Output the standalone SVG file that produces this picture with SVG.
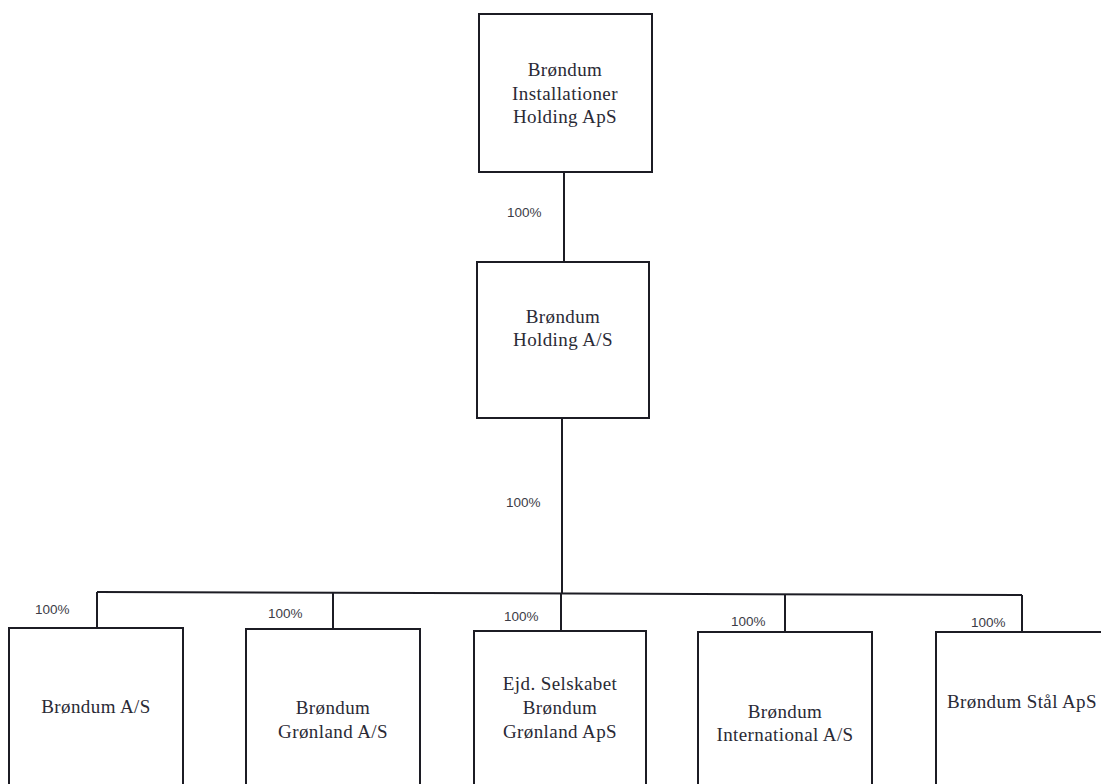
<svg xmlns="http://www.w3.org/2000/svg" width="1101" height="784" viewBox="0 0 1101 784">
<style>
.box{fill:#fff;stroke:#1c1c24;stroke-width:2}
.ln{fill:none;stroke:#1c1c24;stroke-width:2}
.t{font-family:"Liberation Serif","Times New Roman",serif;font-size:19px;letter-spacing:0.4px;fill:#2a2a35;text-anchor:middle}
.p{font-family:"Liberation Sans",Arial,sans-serif;font-size:13.5px;fill:#3c3c46}
</style>
<rect width="1101" height="784" fill="#fff"/>
<g id="connectors">
<line class="ln" x1="564" y1="172" x2="564" y2="262"/>
<line class="ln" x1="562" y1="418" x2="562" y2="593"/>
<line class="ln" x1="97" y1="592" x2="1022" y2="595"/>
<line class="ln" x1="97" y1="592" x2="97" y2="628"/>
<line class="ln" x1="333" y1="592.7" x2="333" y2="629"/>
<line class="ln" x1="561" y1="593.5" x2="561" y2="631"/>
<line class="ln" x1="785" y1="594.3" x2="785" y2="632"/>
<line class="ln" x1="1022" y1="595" x2="1022" y2="632"/>
<text class="p" x="507" y="217">100%</text>
<text class="p" x="506" y="507">100%</text>
<text class="p" x="35" y="614">100%</text>
<text class="p" x="268" y="618">100%</text>
<text class="p" x="504" y="621">100%</text>
<text class="p" x="731" y="626">100%</text>
<text class="p" x="971" y="627">100%</text>
</g>
<g id="n-top">
<rect class="box" x="479" y="14" width="173" height="158"/>
<text class="t" x="565" y="76">Brøndum</text>
<text class="t" x="565" y="100">Installationer</text>
<text class="t" x="565" y="123">Holding ApS</text>
</g>
<g id="n-holding">
<rect class="box" x="477" y="262" width="172" height="156"/>
<text class="t" x="563" y="323">Brøndum</text>
<text class="t" x="563" y="346">Holding A/S</text>
</g>
<g id="n-as">
<rect class="box" x="9" y="628" width="174" height="180"/>
<text class="t" x="96" y="713">Brøndum A/S</text>
</g>
<g id="n-gronland">
<rect class="box" x="246" y="629" width="174" height="180"/>
<text class="t" x="333" y="714">Brøndum</text>
<text class="t" x="333" y="738">Grønland A/S</text>
</g>
<g id="n-ejd">
<rect class="box" x="474" y="631" width="172" height="180"/>
<text class="t" x="560" y="690">Ejd. Selskabet</text>
<text class="t" x="560" y="714">Brøndum</text>
<text class="t" x="560" y="738">Grønland ApS</text>
</g>
<g id="n-international">
<rect class="box" x="698" y="632" width="174" height="180"/>
<text class="t" x="785" y="718">Brøndum</text>
<text class="t" x="785" y="741">International A/S</text>
</g>
<g id="n-staal">
<rect class="box" x="936" y="632" width="176" height="180"/>
<text class="t" x="1022" y="708">Brøndum Stål ApS</text>
</g>
</svg>
